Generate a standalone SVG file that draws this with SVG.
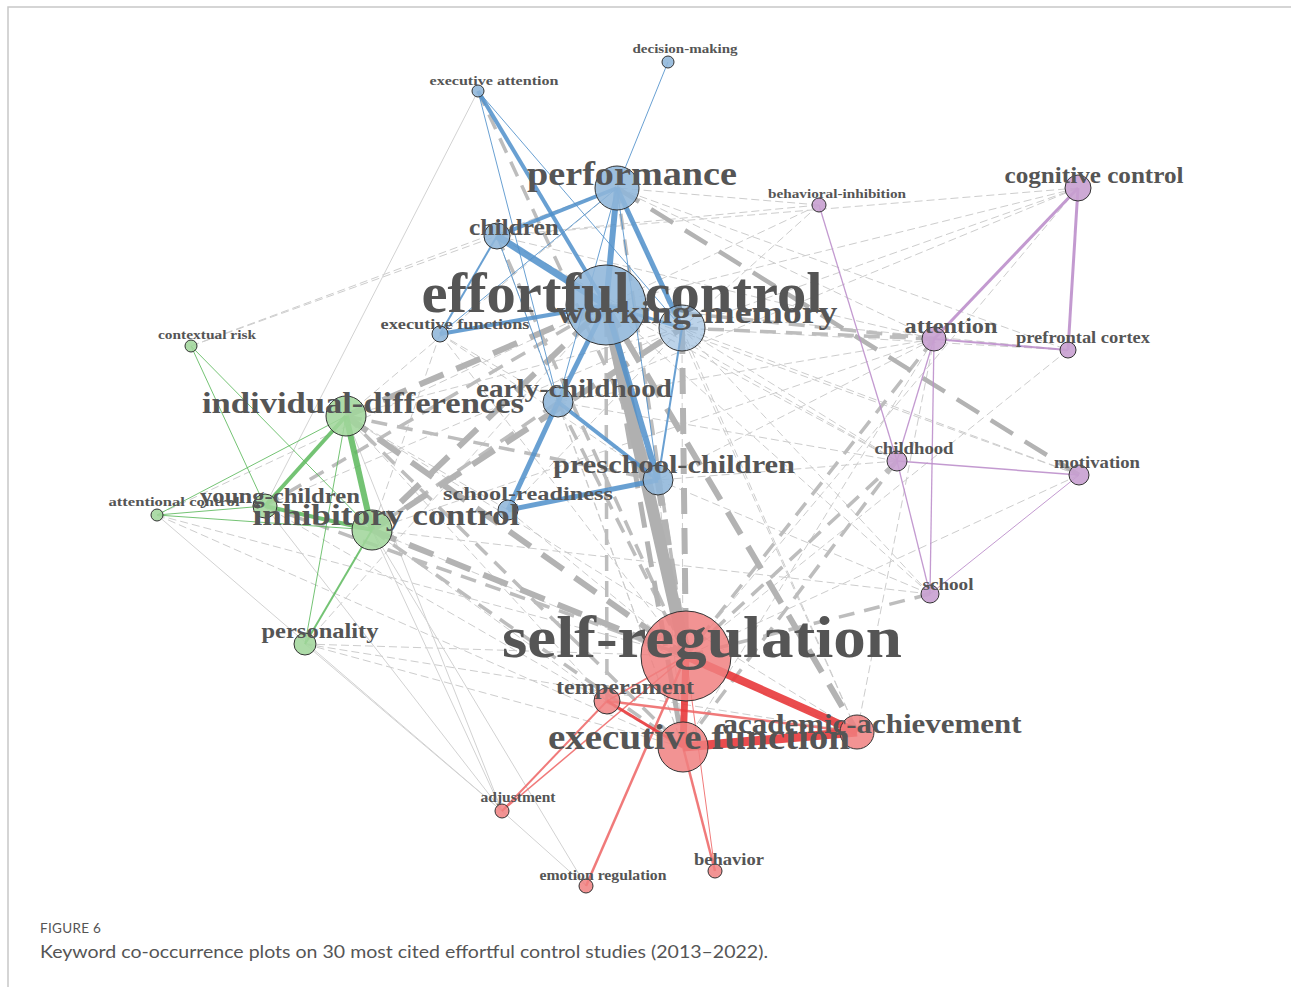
<svg xmlns="http://www.w3.org/2000/svg" width="1291" height="987" viewBox="0 0 1291 987">
<style>
.g1{stroke:#cdcdcd;stroke-width:1;stroke-dasharray:8 4;fill:none}
.gl{stroke:#d2d2d2;stroke-width:1;fill:none}
.g2{stroke:#bdbdbd;stroke-width:3.5;stroke-dasharray:16 10;fill:none}
.g3{stroke:#b3b3b3;stroke-width:6;stroke-dasharray:26 14;fill:none}
.gs{stroke:#b0b0b0;stroke-width:12;fill:none}
.b{stroke:#4f8fca;stroke-opacity:.85;fill:none}
.gr{stroke:#5cb85c;stroke-opacity:.85;fill:none}
.p{stroke:#bd8fcb;stroke-opacity:.9;fill:none}
.r{stroke:#e8383b;stroke-opacity:.9;fill:none}
.rl{stroke:#ee6b6b;stroke-opacity:.9;fill:none}
.nb{fill:#8fb6da;fill-opacity:.88;stroke:#333;stroke-width:1}
.ng{fill:#a2d69c;fill-opacity:.88;stroke:#333;stroke-width:1}
.np{fill:#c8a0d0;fill-opacity:.9;stroke:#333;stroke-width:1}
.nr{fill:#f08080;fill-opacity:.85;stroke:#333;stroke-width:1}
text.l{font-family:"Liberation Serif","Times New Roman",serif;font-weight:bold;fill:#555;text-anchor:middle}
.cap{font-family:Lato,"Open Sans",sans-serif;fill:#555}
</style>
<rect width="1291" height="987" fill="#fff"/>
<path d="M8,987 V7 H1291" fill="none" stroke="#c8c8c8" stroke-width="1.5"/>

<g id="connectors">
  <!-- gray thin -->
  <line class="g1" x1="191" y1="346" x2="617" y2="188"/>
  <line class="g1" x1="191" y1="346" x2="497" y2="236"/>
  <line class="gl" x1="478" y1="91" x2="265" y2="506"/>
  <line class="g1" x1="1078" y1="188" x2="606" y2="305"/>
  <line class="g1" x1="1078" y1="188" x2="682" y2="328"/>
  <line class="g1" x1="1078" y1="188" x2="497" y2="236"/>
  <line class="g1" x1="1078" y1="188" x2="686" y2="656"/>
  <line class="g1" x1="1078" y1="188" x2="558" y2="402"/>
  <line class="g1" x1="1068" y1="350" x2="606" y2="305"/>
  <line class="g1" x1="1068" y1="350" x2="686" y2="656"/>
  <line class="g1" x1="1068" y1="350" x2="682" y2="328"/>
  <line class="g1" x1="1079" y1="475" x2="606" y2="305"/>
  <line class="g1" x1="1079" y1="475" x2="682" y2="328"/>
  <line class="g1" x1="1079" y1="475" x2="686" y2="656"/>
  <line class="g1" x1="819" y1="205" x2="617" y2="188"/>
  <line class="g1" x1="819" y1="205" x2="606" y2="305"/>
  <line class="g1" x1="819" y1="205" x2="682" y2="328"/>
  <line class="g1" x1="819" y1="205" x2="497" y2="236"/>
  <line class="g1" x1="934" y1="339" x2="497" y2="236"/>
  <line class="g1" x1="934" y1="339" x2="558" y2="402"/>
  <line class="g1" x1="934" y1="339" x2="658" y2="480"/>
  <line class="g1" x1="934" y1="339" x2="683" y2="747"/>
  <line class="g1" x1="897" y1="461" x2="606" y2="305"/>
  <line class="g1" x1="897" y1="461" x2="682" y2="328"/>
  <line class="g1" x1="897" y1="461" x2="658" y2="480"/>
  <line class="g1" x1="897" y1="461" x2="558" y2="402"/>
  <line class="g1" x1="897" y1="461" x2="497" y2="236"/>
  <line class="g1" x1="930" y1="594" x2="606" y2="305"/>
  <line class="g1" x1="930" y1="594" x2="682" y2="328"/>
  <line class="g1" x1="930" y1="594" x2="658" y2="480"/>
  <line class="g1" x1="930" y1="594" x2="372" y2="530"/>
  <line class="g1" x1="857" y1="732" x2="682" y2="328"/>
  <line class="g1" x1="857" y1="732" x2="617" y2="188"/>
  <line class="g1" x1="857" y1="732" x2="934" y2="339"/>
  <line class="g1" x1="857" y1="732" x2="305" y2="644"/>
  <line class="g1" x1="857" y1="732" x2="346" y2="416"/>
  <line class="g1" x1="305" y1="644" x2="686" y2="656"/>
  <line class="g1" x1="305" y1="644" x2="683" y2="747"/>
  <line class="gl" x1="305" y1="644" x2="502" y2="811"/>
  <line class="g1" x1="305" y1="644" x2="606" y2="305"/>
  <line class="gl" x1="502" y1="811" x2="346" y2="416"/>
  <line class="gl" x1="502" y1="811" x2="372" y2="530"/>
  <line class="gl" x1="502" y1="811" x2="157" y2="515"/>
  <line class="gl" x1="502" y1="811" x2="265" y2="506"/>
  <line class="gl" x1="502" y1="811" x2="586" y2="886"/>
  <line class="gl" x1="586" y1="886" x2="372" y2="530"/>
  <line class="g1" x1="157" y1="515" x2="686" y2="656"/>
  <line class="g1" x1="157" y1="515" x2="606" y2="305"/>
  <line class="g1" x1="157" y1="515" x2="683" y2="747"/>
  <line class="g1" x1="440" y1="334" x2="686" y2="656"/>
  <line class="g1" x1="440" y1="334" x2="658" y2="480"/>
  <line class="g1" x1="440" y1="334" x2="558" y2="402"/>
  <line class="g1" x1="440" y1="334" x2="372" y2="530"/>
  <line class="g1" x1="607" y1="701" x2="346" y2="416"/>
  <line class="g1" x1="607" y1="701" x2="372" y2="530"/>
  <line class="g1" x1="683" y1="747" x2="682" y2="328"/>
  <line class="g1" x1="683" y1="747" x2="558" y2="402"/>
  <line class="g1" x1="683" y1="747" x2="658" y2="480"/>
  <line class="g1" x1="683" y1="747" x2="265" y2="506"/>
  <line class="g1" x1="683" y1="747" x2="497" y2="236"/>
  <line class="g1" x1="508" y1="510" x2="686" y2="656"/>
  <line class="g1" x1="508" y1="510" x2="346" y2="416"/>
  <line class="g1" x1="508" y1="510" x2="682" y2="328"/>
  <line class="g1" x1="346" y1="416" x2="682" y2="328"/>
  <line class="g1" x1="346" y1="416" x2="617" y2="188"/>
  <line class="g1" x1="265" y1="506" x2="682" y2="328"/>
  <line class="g1" x1="372" y1="530" x2="857" y2="732"/>
  <line class="g1" x1="372" y1="530" x2="934" y2="339"/>
  <line class="g1" x1="617" y1="188" x2="934" y2="339"/>
  <line class="g1" x1="617" y1="188" x2="1068" y2="350"/>
  <!-- gray medium dashed -->
  <line class="g2" x1="897" y1="461" x2="686" y2="656"/>
  <line class="g2" x1="897" y1="461" x2="683" y2="747"/>
  <line class="g2" x1="930" y1="594" x2="686" y2="656"/>
  <line class="g2" x1="934" y1="339" x2="686" y2="656"/>
  <line class="g2" x1="934" y1="339" x2="606" y2="305"/>
  <line class="g2" x1="617" y1="188" x2="686" y2="656"/>
  <line class="g2" x1="497" y1="236" x2="686" y2="656"/>
  <line class="g2" x1="558" y1="402" x2="686" y2="656"/>
  <line class="g2" x1="265" y1="506" x2="686" y2="656"/>
  <line class="g2" x1="265" y1="506" x2="606" y2="305"/>
  <line class="g2" x1="478" y1="91" x2="658" y2="480"/>
  <line class="g2" x1="682" y1="328" x2="934" y2="339"/>
  <line class="g2" x1="607" y1="701" x2="606" y2="305"/>
  <line class="g2" x1="346" y1="416" x2="658" y2="480"/>
  <line class="g2" x1="346" y1="416" x2="683" y2="747"/>
  <line class="g2" x1="372" y1="530" x2="683" y2="747"/>
  <line class="g2" x1="372" y1="530" x2="558" y2="402"/>
  <!-- gray thick dashed -->
  <line class="g3" x1="346" y1="416" x2="686" y2="656"/>
  <line class="g3" x1="372" y1="530" x2="686" y2="656"/>
  <line class="g3" x1="372" y1="530" x2="606" y2="305"/>
  <line class="g3" x1="372" y1="530" x2="682" y2="328"/>
  <line class="g3" x1="346" y1="416" x2="606" y2="305"/>
  <line class="g3" x1="682" y1="328" x2="686" y2="656"/>
  <line class="g3" x1="606" y1="305" x2="857" y2="732"/>
  <line class="g3" x1="617" y1="188" x2="1079" y2="475" style="stroke-width:4.5"/>
  <line class="g3" x1="606" y1="305" x2="683" y2="747" style="stroke-width:5"/>
  <line class="g3" x1="658" y1="480" x2="686" y2="656" style="stroke-width:7"/>
  <!-- gray solid thick -->
  <line class="gs" x1="606" y1="305" x2="686" y2="656"/>

  <!-- blue -->
  <line class="b" stroke-width="1" x1="668" y1="62" x2="617" y2="188"/>
  <line class="b" stroke-width="4" x1="478" y1="91" x2="606" y2="305"/>
  <line class="b" stroke-width="1" x1="478" y1="91" x2="682" y2="328"/>
  <line class="b" stroke-width="1" x1="478" y1="91" x2="558" y2="402"/>
  <line class="b" stroke-width="6" x1="617" y1="188" x2="606" y2="305"/>
  <line class="b" stroke-width="4" x1="617" y1="188" x2="497" y2="236"/>
  <line class="b" stroke-width="5" x1="617" y1="188" x2="682" y2="328"/>
  <line class="b" stroke-width="1" x1="617" y1="188" x2="558" y2="402"/>
  <line class="b" stroke-width="1" x1="617" y1="188" x2="658" y2="480"/>
  <line class="b" stroke-width="1" x1="617" y1="188" x2="440" y2="334"/>
  <line class="b" stroke-width="7" x1="497" y1="236" x2="606" y2="305"/>
  <line class="b" stroke-width="2" x1="497" y1="236" x2="440" y2="334"/>
  <line class="b" stroke-width="1" x1="497" y1="236" x2="558" y2="402"/>
  <line class="b" stroke-width="4" x1="440" y1="334" x2="606" y2="305"/>
  <line class="b" stroke-width="3" x1="606" y1="305" x2="682" y2="328"/>
  <line class="b" stroke-width="5" x1="606" y1="305" x2="558" y2="402"/>
  <line class="b" stroke-width="6" x1="606" y1="305" x2="658" y2="480"/>
  <line class="b" stroke-width="2" x1="682" y1="328" x2="658" y2="480"/>
  <line class="b" stroke-width="5" x1="558" y1="402" x2="508" y2="510"/>
  <line class="b" stroke-width="4" x1="558" y1="402" x2="658" y2="480"/>
  <line class="b" stroke-width="5" x1="508" y1="510" x2="658" y2="480"/>

  <!-- green -->
  <line class="gr" stroke-width="6" x1="346" y1="416" x2="372" y2="530"/>
  <line class="gr" stroke-width="4" x1="346" y1="416" x2="265" y2="506"/>
  <line class="gr" stroke-width="4" x1="265" y1="506" x2="372" y2="530"/>
  <line class="gr" stroke-width="1" x1="191" y1="346" x2="265" y2="506"/>
  <line class="gr" stroke-width="1" x1="191" y1="346" x2="372" y2="530"/>
  <line class="gr" stroke-width="1" x1="157" y1="515" x2="346" y2="416"/>
  <line class="gr" stroke-width="1" x1="157" y1="515" x2="372" y2="530"/>
  <line class="gr" stroke-width="1" x1="157" y1="515" x2="265" y2="506"/>
  <line class="gr" stroke-width="2" x1="305" y1="644" x2="372" y2="530"/>
  <line class="gr" stroke-width="1" x1="305" y1="644" x2="346" y2="416"/>

  <!-- purple -->
  <line class="p" stroke-width="3" x1="1078" y1="188" x2="934" y2="339"/>
  <line class="p" stroke-width="3" x1="1078" y1="188" x2="1068" y2="350"/>
  <line class="p" stroke-width="2" x1="934" y1="339" x2="1068" y2="350"/>
  <line class="p" stroke-width="1.3" x1="934" y1="339" x2="897" y2="461"/>
  <line class="p" stroke-width="1.3" x1="934" y1="339" x2="930" y2="594"/>
  <line class="p" stroke-width="1.3" x1="819" y1="205" x2="897" y2="461"/>
  <line class="p" stroke-width="1.5" x1="897" y1="461" x2="1079" y2="475"/>
  <line class="p" stroke-width="1.3" x1="897" y1="461" x2="930" y2="594"/>
  <line class="p" stroke-width="1" x1="1079" y1="475" x2="930" y2="594"/>

  <!-- red -->
  <line class="rl" stroke-width="1.5" x1="607" y1="701" x2="686" y2="656"/>
  <line class="rl" stroke-width="2" x1="607" y1="701" x2="502" y2="811"/>
  <line class="rl" stroke-width="1.5" x1="686" y1="656" x2="502" y2="811"/>
  <line class="rl" stroke-width="2.5" x1="686" y1="656" x2="586" y2="886"/>
  <line class="rl" stroke-width="1" x1="686" y1="656" x2="715" y2="871"/>
  <line class="rl" stroke-width="2.5" x1="683" y1="747" x2="715" y2="871"/>
  <line class="rl" stroke-width="2.5" x1="607" y1="701" x2="857" y2="732"/>
  <line class="r" stroke-width="3" x1="607" y1="701" x2="683" y2="747"/>
  <line class="r" stroke-width="7" x1="686" y1="656" x2="683" y2="747"/>
  <line class="r" stroke-width="8" x1="686" y1="656" x2="857" y2="732"/>
  <line class="r" stroke-width="9" x1="683" y1="747" x2="857" y2="732"/>
</g>

<g id="node-decision-making"><circle class="nb" cx="668" cy="62" r="6"/><text class="l" x="685" y="53" font-size="13" textLength="105" lengthAdjust="spacingAndGlyphs">decision-making</text></g>
<g id="node-executive-attention"><circle class="nb" cx="478" cy="91" r="6"/><text class="l" x="494" y="85" font-size="13" textLength="129" lengthAdjust="spacingAndGlyphs">executive attention</text></g>
<g id="node-contextual-risk"><circle class="ng" cx="191" cy="346" r="6"/><text class="l" x="207" y="339" font-size="13" textLength="98" lengthAdjust="spacingAndGlyphs">contextual risk</text></g>
<g id="node-attentional-control"><circle class="ng" cx="157" cy="515" r="6"/><text class="l" x="174" y="506" font-size="13" textLength="131" lengthAdjust="spacingAndGlyphs">attentional control</text></g>
<g id="node-behavioral-inhibition"><circle class="np" cx="819" cy="205" r="7"/><text class="l" x="837" y="198" font-size="13" textLength="138" lengthAdjust="spacingAndGlyphs">behavioral-inhibition</text></g>
<g id="node-adjustment"><circle class="nr" cx="502" cy="811" r="7"/><text class="l" x="518" y="802" font-size="14" textLength="75" lengthAdjust="spacingAndGlyphs">adjustment</text></g>
<g id="node-emotion-regulation"><circle class="nr" cx="586" cy="886" r="7"/><text class="l" x="603" y="880" font-size="14" textLength="127" lengthAdjust="spacingAndGlyphs">emotion regulation</text></g>
<g id="node-behavior"><circle class="nr" cx="715" cy="871" r="7"/><text class="l" x="729" y="865" font-size="17" textLength="70" lengthAdjust="spacingAndGlyphs">behavior</text></g>
<g id="node-executive-functions"><circle class="nb" cx="440" cy="334" r="8"/><text class="l" x="455" y="329" font-size="14" textLength="149" lengthAdjust="spacingAndGlyphs">executive functions</text></g>
<g id="node-prefrontal-cortex"><circle class="np" cx="1068" cy="350" r="8"/><text class="l" x="1083" y="343" font-size="17" textLength="134" lengthAdjust="spacingAndGlyphs">prefrontal cortex</text></g>
<g id="node-school"><circle class="np" cx="930" cy="594" r="9"/><text class="l" x="948" y="590" font-size="17" textLength="51" lengthAdjust="spacingAndGlyphs">school</text></g>
<g id="node-childhood"><circle class="np" cx="897" cy="461" r="10"/><text class="l" x="914" y="454" font-size="17" textLength="79" lengthAdjust="spacingAndGlyphs">childhood</text></g>
<g id="node-motivation"><circle class="np" cx="1079" cy="475" r="10"/><text class="l" x="1097" y="468" font-size="17" textLength="86" lengthAdjust="spacingAndGlyphs">motivation</text></g>
<g id="node-school-readiness"><circle class="nb" cx="508" cy="510" r="10"/><text class="l" x="528" y="500" font-size="18" textLength="170" lengthAdjust="spacingAndGlyphs">school-readiness</text></g>
<g id="node-personality"><circle class="ng" cx="305" cy="644" r="11"/><text class="l" x="320" y="638" font-size="20" textLength="117" lengthAdjust="spacingAndGlyphs">personality</text></g>
<g id="node-attention"><circle class="np" cx="934" cy="339" r="12"/><text class="l" x="951" y="333" font-size="22" textLength="93" lengthAdjust="spacingAndGlyphs">attention</text></g>
<g id="node-young-children"><circle class="ng" cx="265" cy="506" r="12"/><text class="l" x="280" y="503" font-size="20" textLength="160" lengthAdjust="spacingAndGlyphs">young-children</text></g>
<g id="node-cognitive-control"><circle class="np" cx="1078" cy="188" r="13"/><text class="l" x="1094" y="183" font-size="24" textLength="179" lengthAdjust="spacingAndGlyphs">cognitive control</text></g>
<g id="node-children"><circle class="nb" cx="497" cy="236" r="13"/><text class="l" x="514" y="235" font-size="23" textLength="90" lengthAdjust="spacingAndGlyphs">children</text></g>
<g id="node-early-childhood"><circle class="nb" cx="558" cy="402" r="15"/><text class="l" x="574" y="397" font-size="26" textLength="196" lengthAdjust="spacingAndGlyphs">early-childhood</text></g>
<g id="node-preschool-children"><circle class="nb" cx="658" cy="480" r="15"/><text class="l" x="674" y="473" font-size="26" textLength="242" lengthAdjust="spacingAndGlyphs">preschool-children</text></g>
<g id="node-academic-achievement"><circle class="nr" cx="857" cy="732" r="17"/><text class="l" x="872" y="733" font-size="28" textLength="299" lengthAdjust="spacingAndGlyphs">academic-achievement</text></g>
<g id="node-individual-differences"><circle class="ng" cx="346" cy="416" r="20"/><text class="l" x="363" y="413" font-size="30" textLength="322" lengthAdjust="spacingAndGlyphs">individual-differences</text></g>
<g id="node-inhibitory-control"><circle class="ng" cx="372" cy="530" r="20"/><text class="l" x="386" y="525" font-size="30" textLength="267" lengthAdjust="spacingAndGlyphs">inhibitory control</text></g>
<g id="node-performance"><circle class="nb" cx="617" cy="188" r="22"/><text class="l" x="632" y="185" font-size="34" textLength="210" lengthAdjust="spacingAndGlyphs">performance</text></g>
<g id="node-executive-function"><circle class="nr" cx="683" cy="747" r="25"/><text class="l" x="699" y="749" font-size="36" textLength="302" lengthAdjust="spacingAndGlyphs">executive function</text></g>
<g id="node-effortful-control"><circle class="nb" cx="606" cy="305" r="40"/><text class="l" x="622" y="312" font-size="56" textLength="401" lengthAdjust="spacingAndGlyphs">effortful control</text></g>
<g id="node-working-memory"><circle class="nb" cx="682" cy="328" r="23" style="fill-opacity:.6"/><text class="l" x="697" y="323" font-size="31" textLength="281" lengthAdjust="spacingAndGlyphs">working-memory</text></g>
<g id="node-self-regulation"><circle class="nr" cx="686" cy="656" r="45"/><text class="l" x="702" y="657" font-size="60" textLength="400" lengthAdjust="spacingAndGlyphs">self-regulation</text></g>
<g id="node-temperament"><circle class="nr" cx="607" cy="701" r="13"/><text class="l" x="625" y="694" font-size="20" textLength="138" lengthAdjust="spacingAndGlyphs">temperament</text></g>

<g id="caption">
  <text class="cap" x="40" y="933" font-size="13.5" letter-spacing="0.3">FIGURE 6</text>
  <text class="cap" x="40" y="958" font-size="17" fill="#666" textLength="728" lengthAdjust="spacingAndGlyphs">Keyword co-occurrence plots on 30 most cited effortful control studies (2013–2022).</text>
</g>
</svg>
